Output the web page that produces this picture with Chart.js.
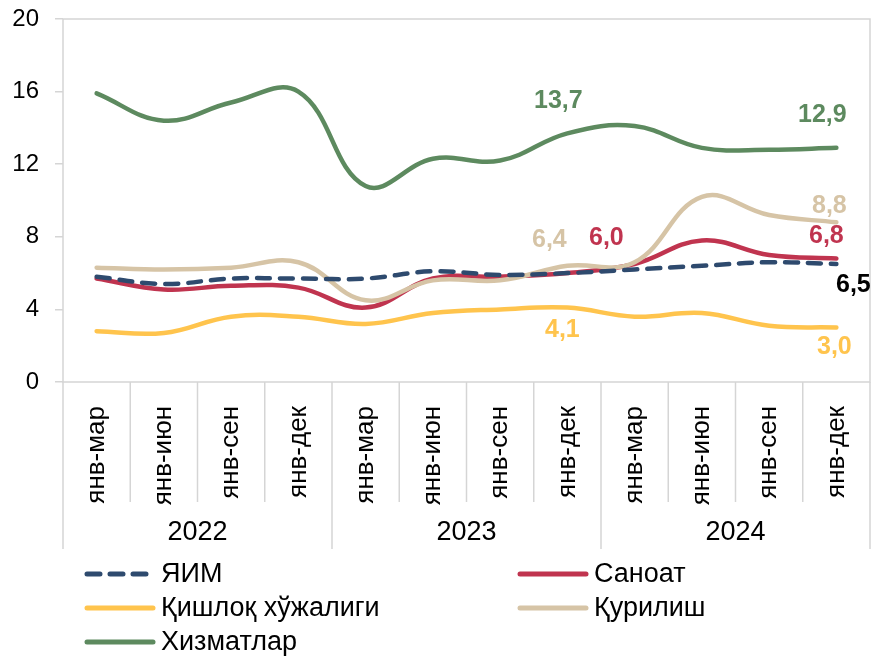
<!DOCTYPE html>
<html>
<head>
<meta charset="utf-8">
<script src="https://cdn.jsdelivr.net/npm/chart.js@4/dist/chart.umd.min.js"></script>
<style>
  html, body { margin: 0; padding: 0; background: #fff; }
  #wrap { width: 877px; height: 656px; }
</style>
</head>
<body>
<div id="wrap"><canvas id="chart"></canvas></div>
<script>
const categories = [
  'янв-мар', 'янв-июн', 'янв-сен', 'янв-дек',
  'янв-мар', 'янв-июн', 'янв-сен', 'янв-дек',
  'янв-мар', 'янв-июн', 'янв-сен', 'янв-дек'
];
const years = ['2022', '2023', '2024'];
const yTicks = [0, 4, 8, 12, 16, 20];

const gdp          = [5.8, 5.4, 5.7, 5.7, 5.7, 6.1, 5.9, 6.0, 6.2, 6.4, 6.6, 6.5];
const industry     = [5.7, 5.1, 5.3, 5.2, 4.1, 5.7, 5.8, 6.0, 6.5, 7.8, 7.0, 6.8];
const agriculture  = [2.8, 2.7, 3.6, 3.6, 3.2, 3.8, 4.0, 4.1, 3.6, 3.8, 3.1, 3.0];
const construction = [6.3, 6.2, 6.3, 6.6, 4.5, 5.6, 5.6, 6.4, 6.6, 10.2, 9.2, 8.8];
const services     = [15.9, 14.4, 15.4, 16.0, 10.8, 12.3, 12.2, 13.7, 14.1, 12.9, 12.8, 12.9];

const seriesNames = ['ЯИМ', 'Саноат', 'Қишлоқ хўжалиги', 'Қурилиш', 'Хизматлар'];
const seriesData = [gdp, industry, agriculture, construction, services];
const colors = ['#2E4A6E', '#C0344F', '#FFC44D', '#D6C4A6', '#5D8A5F'];

const FONT = "'Liberation Sans', Arial, sans-serif";
const GRID = '#D5D5D5';

// labels placed as in the source: [series, point, dx, dy, color]
const labelSpots = [
  [4, 7, -9, -32], [4, 11, -14, -33],
  [3, 7, -18, -26], [3, 11, -7, -16],
  [1, 7, 39, -35], [1, 11, -10, -22],
  [0, 11, 17, 21, '#000'],
  [2, 7, -5, 23], [2, 11, -2, 20]
];

const fmt = (v) => v.toFixed(1).replace('.', ',');

const frame = {
  id: 'frame',
  beforeDatasetsDraw(chart) {
    const { ctx, chartArea: a, scales: { x } } = chart;
    ctx.save();
    ctx.strokeStyle = GRID;
    ctx.lineWidth = 1.5;
    ctx.strokeRect(a.left, a.top, a.right - a.left, a.bottom - a.top);

    const step = x.getPixelForValue(1) - x.getPixelForValue(0);
    for (let i = 0; i <= categories.length; i++) {
      const bx = x.getPixelForValue(0) + (i - 0.5) * step;
      const end = i % 4 === 0 ? 549 : 502;
      ctx.beginPath();
      ctx.moveTo(bx, a.bottom);
      ctx.lineTo(bx, end);
      ctx.stroke();
    }

    ctx.fillStyle = '#000';
    ctx.font = '27px ' + FONT;
    ctx.textAlign = 'center';
    ctx.textBaseline = 'middle';
    years.forEach((yr, g) => {
      const cx = (x.getPixelForValue(g * 4) + x.getPixelForValue(g * 4 + 3)) / 2;
      ctx.fillText(yr, cx, 533);
    });
    ctx.restore();
  },
  afterDatasetsDraw(chart) {
    const { ctx, scales: { x, y } } = chart;
    ctx.save();
    ctx.font = 'bold 25px ' + FONT;
    ctx.textAlign = 'center';
    ctx.textBaseline = 'middle';
    labelSpots.forEach(([s, i, dx, dy, col]) => {
      const v = seriesData[s][i];
      ctx.fillStyle = col || colors[s];
      ctx.fillText(fmt(v), x.getPixelForValue(i) + dx, y.getPixelForValue(v) + dy);
    });
    ctx.restore();

    // legend, two columns
    ctx.save();
    ctx.font = '27px ' + FONT;
    ctx.textBaseline = 'middle';
    ctx.fillStyle = '#000';
    const cols = [85, 518];
    const rows = [574, 608, 642];
    seriesNames.forEach((name, k) => {
      const lx = cols[k % 2], ly = rows[Math.floor(k / 2)];
      ctx.strokeStyle = colors[k];
      ctx.lineWidth = 5;
      ctx.lineCap = 'round';
      ctx.setLineDash(k === 0 ? [13, 10] : []);
      ctx.beginPath();
      ctx.moveTo(lx + 2, ly);
      ctx.lineTo(lx + 68, ly);
      ctx.stroke();
      ctx.fillText(name, lx + 76, ly + 1);
    });
    ctx.restore();
  }
};

const datasets = seriesNames.map((name, k) => ({
  label: name,
  data: seriesData[k],
  borderColor: colors[k],
  backgroundColor: colors[k],
  borderWidth: 4.5,
  borderDash: k === 0 ? [13, 10] : [],
  borderCapStyle: 'round',
  pointRadius: 0,
  tension: 0.4,
  fill: false,
  order: k === 0 ? 0 : 6 - k
}));

new Chart(document.getElementById('chart'), {
  type: 'line',
  data: { labels: categories, datasets },
  options: {
    responsive: true,
    maintainAspectRatio: false,
    animation: false,
    layout: { padding: { top: 19, right: 7, bottom: 107, left: 0 } },
    plugins: {
      legend: { display: false },
      tooltip: { enabled: false }
    },
    scales: {
      x: {
        offset: true,
        grid: { display: false },
        border: { display: false },
        ticks: {
          autoSkip: false,
          minRotation: 90,
          maxRotation: 90,
          padding: 16,
          color: '#000',
          font: { family: FONT, size: 26 }
        },
        afterFit(scale) {
          scale.height = 167;
          scale.paddingLeft = 0;
          scale.paddingRight = 0;
        }
      },
      y: {
        min: 0,
        max: 20,
        afterBuildTicks(scale) { scale.ticks = yTicks.map((v) => ({ value: v })); },
        grid: { drawOnChartArea: false, drawTicks: true, tickLength: 8, color: GRID, lineWidth: 1.5 },
        border: { display: false },
        ticks: {
          padding: 16,
          color: '#000',
          font: { family: FONT, size: 24 }
        },
        afterFit(scale) {
          scale.width = 63;
          scale.paddingTop = 0;
          scale.paddingBottom = 0;
        }
      }
    }
  },
  plugins: [frame]
});
</script>
</body>
</html>
